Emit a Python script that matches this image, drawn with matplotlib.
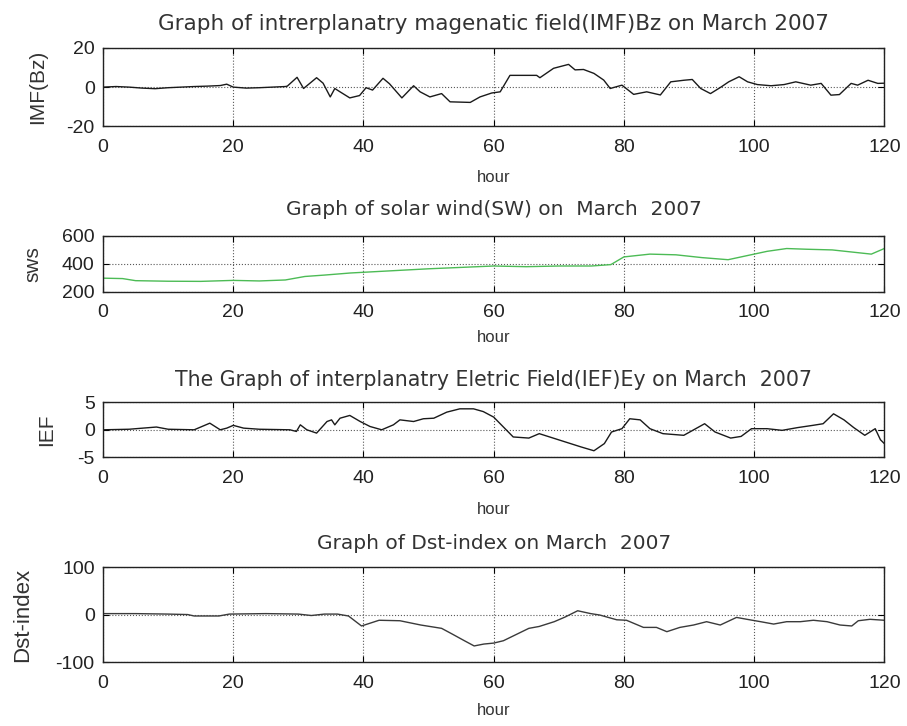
import matplotlib
matplotlib.use('Agg')
import matplotlib.pyplot as plt

plt.rcParams['font.family'] = ['Liberation Sans', 'DejaVu Sans']
plt.rcParams['axes.unicode_minus'] = False

# ---------------- data (hours of March 2007) ----------------
imf_hours = [0, 2, 4, 6, 8, 10, 12, 14, 16, 18, 19, 20, 22, 24, 26, 28,
             28.3, 29.8, 30.8, 32.8, 33.8, 34.9, 35.6, 36.4, 37.9, 39.4,
             40.4, 41.4, 43, 44, 45.9, 47.7, 48.7, 50.2, 52, 53.3, 56.4,
             57.9, 59.7, 61, 62.5, 66.6, 67.1, 69.2, 71.5, 72.5, 73.8, 75.4,
             76.9, 77.9, 79.7, 81.5, 83.5, 85.6, 87.2, 89.2, 90.5, 91.8,
             93.3, 94.9, 96.1, 97.7, 99, 100.5, 102.6, 104.6, 106.4, 108.7,
             110.3, 111.8, 113.1, 114.9, 115.9, 117.5, 119, 120]
imf_bz = [0, 0.3, 0, -0.5, -0.8, -0.3, 0, 0.3, 0.5, 0.8, 1.5, 0, -0.5, -0.3, 0, 0.3,
          0.5, 5, -0.7, 4.8, 2, -5, -0.7, -2.4, -5.5, -4.3,
          -0.3, -1.5, 4.5, 1.7, -5.5, 0.7, -2.4, -5, -3.3, -7.5, -7.8,
          -5, -3, -2.4, 6, 6, 4.8, 9.6, 11.6, 8.8, 9, 7,
          3.6, -0.7, 1, -3.7, -2.4, -4, 2.7, 3.5, 3.9, -0.7,
          -3.3, 0, 2.7, 5.3, 2.7, 1.3, 0.7, 1.3, 2.7, 1,
          1.9, -4.1, -3.8, 1.9, 1, 3.5, 1.9, 2]

sw_hours = [0, 3, 5, 10, 15, 20, 24, 28, 31, 34, 38, 42, 46, 50, 55, 60, 65,
            70, 75, 78, 80, 84, 88, 92, 96, 99, 102, 105, 108, 112, 115, 118, 120]
sw_speed = [298, 295, 280, 276, 275, 282, 278, 285, 310, 320, 335, 345, 355,
            365, 375, 385, 380, 385, 385, 395, 450, 470, 465, 445, 430, 460,
            490, 510, 505, 500, 485, 470, 510]

ief_hours = [0, 4, 8.2, 10, 14, 16.4, 18, 19, 20, 21.6, 24, 28.7, 29.7, 30.3,
             31.3, 32.8, 34.4, 35.1, 35.6, 36.4, 37.9, 39.5, 41, 42.8, 44.6,
             45.6, 47.7, 49.2, 50.8, 52.8, 54.8, 56.9, 58.4, 60, 61.5, 63,
             65.4, 67, 68.6, 71, 73.4, 75.4, 77, 78.1, 79.7, 80.9, 82.5, 84,
             86, 89.2, 92.4, 94, 96.4, 98, 99.6, 102, 104.3, 106.7, 109,
             110.6, 112.2, 113.8, 115.3, 117, 118.6, 119.4, 120]
ief_ey = [0, 0.1, 0.5, 0.1, 0, 1.2, 0, 0.3, 0.8, 0.3, 0.1, 0, -0.3, 0.9,
          0, -0.6, 1.5, 1.8, 0.9, 2.1, 2.6, 1.5, 0.6, 0, 0.9,
          1.8, 1.5, 2, 2.1, 3.2, 3.8, 3.8, 3.3, 2.3, 0.5, -1.3,
          -1.5, -0.7, -1.3, -2.2, -3.1, -3.8, -2.5, -0.4, 0.2, 2, 1.8, 0.2,
          -0.7, -1, 1.1, -0.4, -1.5, -1.2, 0.2, 0.2, -0.1, 0.4, 0.8,
          1.1, 2.9, 1.8, 0.4, -1, 0.2, -1.8, -2.5]

dst_hours = [0, 5, 10, 13, 14, 17.8, 19.4, 25, 30, 32, 34, 36, 37.7, 39.7,
             42.4, 45.6, 48.8, 52, 53.5, 55.5, 57, 58.5, 60, 61.5, 63, 65.4,
             67, 69.3, 71, 72.9, 74.9, 76.3, 78.9, 80.4, 83, 85, 86.6, 88.6,
             90.7, 92.7, 94.8, 97.3, 98.9, 101, 103, 105, 107.1, 109.1, 111.2,
             113.2, 115, 116, 117.8, 120]
dst_index = [2, 2, 1, 0, -3, -3, 1, 2, 1, -2, 1, 1, -3, -24,
             -12, -13, -22, -29, -40, -55, -66, -62, -60, -55, -45, -29,
             -25, -15, -5, 8, 2, -1, -11, -12, -27, -27, -36, -27,
             -22, -15, -22, -6, -10, -15, -20, -15, -15, -12, -15,
             -22, -24, -13, -10, -12]

hour_ticks = [0, 20, 40, 60, 80, 100, 120]

# ---------------- figure layout ----------------
fig = plt.figure(figsize=(9.07, 7.26), dpi=100)

left, width = 0.1136, 0.8614
panels = [
    # (bottom, height)
    (0.826, 0.108),
    (0.598, 0.077),
    (0.370, 0.076),
    (0.088, 0.131),
]

# series, colour, y ticks, title, title size, y label, y label x, x label y, title pad, y label size
panel_data = [
    (imf_hours, imf_bz, '#1a1a1a', [-20, 0, 20],
     'Graph of intrerplanatry magenatic field(IMF)Bz on March 2007', 15.5,
     'IMF(Bz)', -0.072, -0.56, 13, 15),
    (sw_hours, sw_speed, '#4cbb55', [200, 400, 600],
     'Graph of solar wind(SW) on  March  2007', 14.5,
     'sws', -0.078, -0.68, 15, 15),
    (ief_hours, ief_ey, '#1a1a1a', [-5, 0, 5],
     'The Graph of interplanatry Eletric Field(IEF)Ey on March  2007', 14.8,
     'IEF', -0.060, -0.80, 12, 15),
    (dst_hours, dst_index, '#3a3a3a', [-100, 0, 100],
     'Graph of Dst-index on March  2007', 14.5,
     'Dst-index', -0.090, -0.43, 13, 16),
]

for (bottom, height), (xs, ys, colour, yticks, title, tsize, ylab, ylab_x, xlab_y, tpad, ysize) in zip(panels, panel_data):
    ax = fig.add_axes([left, bottom, width, height])
    ax.plot(xs, ys, color=colour, linewidth=1.0)

    ax.set_xlim(0, 120)
    ax.set_ylim(yticks[0], yticks[-1])
    ax.set_xticks(hour_ticks)
    ax.set_yticks(yticks)

    # MATLAB style box, inward ticks and dotted grid
    ax.tick_params(direction='in', top=True, right=True, length=4,
                   labelsize=14, pad=6, labelcolor='#222222')
    ax.tick_params(axis='x', pad=9)
    for spine in ax.spines.values():
        spine.set_linewidth(1.0)
        spine.set_color('#222222')
    ax.grid(True, linestyle=':', color='0.35', linewidth=0.8)

    ax.set_title(title, fontsize=tsize, color='#333333', pad=tpad,
                 family=['DejaVu Sans'])
    ax.set_ylabel(ylab, fontsize=ysize, color='#333333')
    ax.yaxis.set_label_coords(ylab_x, 0.5)
    ax.set_xlabel('hour', fontsize=12, color='#333333', va='top')
    ax.xaxis.set_label_coords(0.5, xlab_y)

fig.savefig('out.png', dpi=100)
